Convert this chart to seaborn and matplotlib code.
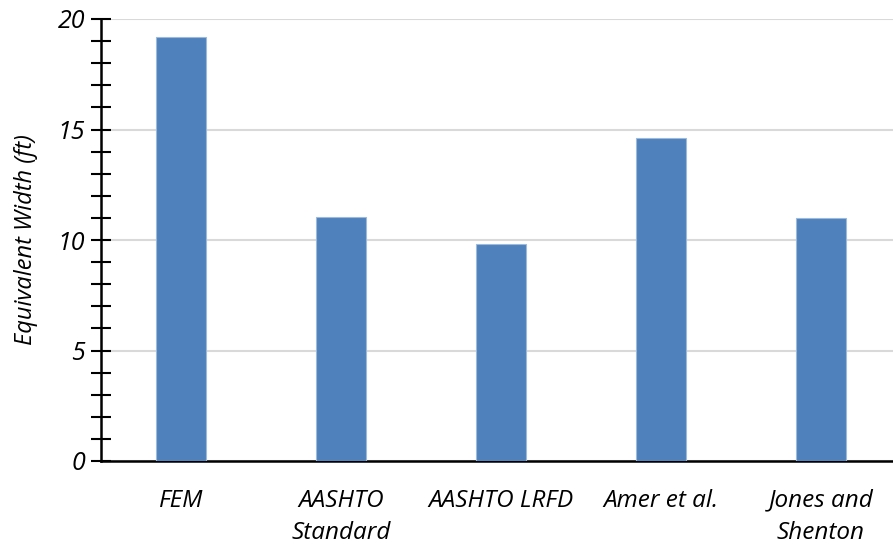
import matplotlib.pyplot as plt
from matplotlib.ticker import MultipleLocator
import seaborn as sns
import pandas as pd

# Chart data
methods = ['FEM', 'AASHTO\nStandard', 'AASHTO LRFD', 'Amer et al.', 'Jones and\nShenton']
widths = [19.2, 11.03, 9.8, 14.6, 10.98]

df = pd.DataFrame({'Method': methods, 'Width': widths})

sns.set_style('white')
plt.rcParams['font.family'] = ['Open Sans', 'DejaVu Sans']
plt.rcParams['font.style'] = 'italic'
plt.rcParams['text.color'] = 'black'
plt.rcParams['axes.labelcolor'] = 'black'
plt.rcParams['xtick.color'] = 'black'
plt.rcParams['ytick.color'] = 'black'

fig = plt.figure(figsize=(8.93, 5.44), dpi=100)
ax = fig.add_axes([101 / 893, 83 / 544, 1 - 101 / 893, 442 / 544])

sns.barplot(data=df, x='Method', y='Width', color='#4F81BD', saturation=1,
            width=0.31, edgecolor='#9DB9DC', linewidth=0.8, ax=ax, zorder=3)

ax.set_ylim(0, 20)
ax.set_xlim(-0.5, 4.45)
ax.yaxis.set_major_locator(MultipleLocator(5))
ax.yaxis.set_minor_locator(MultipleLocator(1))
ax.grid(axis='y', which='major', color='#D9D9D9', linewidth=1.5, zorder=0)
ax.set_axisbelow(True)

for side in ['top', 'right']:
    ax.spines[side].set_visible(False)
ax.spines['left'].set_color('black')
ax.spines['left'].set_linewidth(1.8)
ax.spines['bottom'].set_color('black')
ax.spines['bottom'].set_linewidth(1.8)

ax.tick_params(axis='y', which='both', left=True, direction='inout', length=15,
               width=1.5, color='black', labelsize=18, pad=4, labelcolor='black')
ax.tick_params(axis='x', length=0, labelsize=17.5, pad=20, labelcolor='black')
for lbl in ax.get_yticklabels() + ax.get_xticklabels():
    lbl.set_fontstyle('italic')
    lbl.set_linespacing(1.45)

ax.set_xlabel('')
ax.set_ylabel('Equivalent Width (ft)', fontsize=17, fontstyle='italic',
              color='black', labelpad=14)

fig.savefig('out.png', dpi=100)
